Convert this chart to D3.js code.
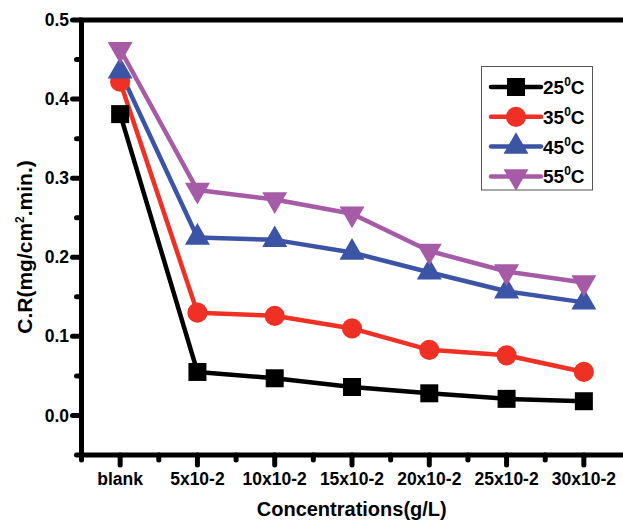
<!DOCTYPE html>
<html>
<head>
<meta charset="utf-8">
<script src="https://cdn.jsdelivr.net/npm/d3@7"></script>
<style>
  html, body { margin: 0; padding: 0; background: #fff; }
  svg { display: block; font-family: "Liberation Sans", Arial, sans-serif; font-weight: bold; }
</style>
</head>
<body>
<svg id="chart" width="623" height="523"></svg>
<script>
// ---- data ----
const categories = ["blank", "5x10-2", "10x10-2", "15x10-2", "20x10-2", "25x10-2", "30x10-2"];
const seriesNames = ["25", "35", "45", "55"];
const t25 = [0.381, 0.055, 0.047, 0.036, 0.028, 0.021, 0.018];
const t35 = [0.422, 0.130, 0.126, 0.110, 0.083, 0.076, 0.055];
const t45 = [0.435, 0.225, 0.222, 0.206, 0.181, 0.157, 0.143];
const t55 = [0.463, 0.285, 0.273, 0.255, 0.208, 0.182, 0.168];
const yMajorTicks = [0.0, 0.1, 0.2, 0.3, 0.4, 0.5];
const yMinorTicks = [-0.05, 0.05, 0.15, 0.25, 0.35, 0.45];
const xMinorTicks = [-0.5, 0.5, 1.5, 2.5, 3.5, 4.5, 5.5];

const colors = ["#000000", "#EE3124", "#3B54A5", "#A65BA7"];
const symbols = [d3.symbolSquare, d3.symbolCircle, d3.symbolTriangle, "down"];
const allSeries = [t25, t35, t45, t55];

const svg = d3.select("#chart");
const pLeft = 81.5, pRight = 622, pTop = 20, pBottom = 455;

const x = d3.scaleLinear().domain([-0.5, 6.5]).range([pLeft, pRight + 0.5]);
const y = d3.scaleLinear().domain([-0.05, 0.5]).range([pBottom, pTop]);

function symbolPath(sym) {
  if (sym === "down") return d3.symbol(d3.symbolTriangle, 270)();
  if (sym === d3.symbolTriangle) return d3.symbol(sym, 270)();
  if (sym === d3.symbolSquare) return d3.symbol(sym, 324)();
  return d3.symbol(sym, 320)();
}

const AX = 5;
// frame: left, bottom, top
svg.append("path").attr("d", `M623,${pTop}H${pLeft}V${pBottom}H623`)
  .attr("stroke", "#000").attr("stroke-width", AX).attr("fill", "none");

// ticks drawn from scales
const tickG = svg.append("g").attr("stroke", "#000").attr("stroke-width", AX).attr("stroke-linecap", "round");
tickG.selectAll(".ymaj").data(yMajorTicks).join("line")
  .attr("x1", pLeft - 9).attr("x2", pLeft).attr("y1", d => y(d)).attr("y2", d => y(d));
tickG.selectAll(".ymin").data(yMinorTicks).join("line")
  .attr("x1", pLeft - 5).attr("x2", pLeft).attr("y1", d => y(d)).attr("y2", d => y(d));
tickG.selectAll(".xmaj").data(d3.range(categories.length)).join("line")
  .attr("x1", d => x(d)).attr("x2", d => x(d)).attr("y1", pBottom).attr("y2", pBottom + 10);
tickG.selectAll(".xmin").data(xMinorTicks).join("line")
  .attr("x1", d => x(d)).attr("x2", d => x(d)).attr("y1", pBottom).attr("y2", pBottom + 5);

// tick labels
svg.append("g").selectAll("text").data(yMajorTicks).join("text")
  .attr("x", 69).attr("y", d => y(d)).attr("dy", "0.35em").attr("text-anchor", "end")
  .style("font-size", "17.5px").text(d => d3.format(".1f")(d));
svg.append("g").selectAll("text").data(categories).join("text")
  .attr("x", (d, i) => x(i)).attr("y", 485).attr("text-anchor", "middle")
  .style("font-size", "17.5px").text(d => d);

// lines + markers
const line = d3.line().x((d, i) => x(i)).y(d => y(d));
allSeries.forEach((s, k) => {
  svg.append("path").datum(s).attr("d", line).attr("fill", "none")
    .attr("stroke", colors[k]).attr("stroke-width", 4.5).attr("stroke-linejoin", "round");
});
allSeries.forEach((s, k) => {
  svg.append("g").selectAll("path").data(s).join("path")
    .attr("d", symbolPath(symbols[k]))
    .attr("transform", (d, i) => `translate(${x(i)},${y(d)})` + (symbols[k] === "down" ? " rotate(180)" : ""))
    .attr("fill", colors[k]);
});

// axis titles
svg.append("text").attr("x", (pLeft + pRight) / 2).attr("y", 516).attr("text-anchor", "middle")
  .style("font-size", "20px").text("Concentrations(g/L)");

const yt = svg.append("text").attr("transform", "translate(32,247) rotate(-90)").attr("text-anchor", "middle")
  .style("font-size", "21px");
yt.append("tspan").text("C.R(mg/cm");
yt.append("tspan").attr("dy", -8).style("font-size", "12px").text("2");
yt.append("tspan").attr("dy", 8).text(".min.)");

// legend
const lg = svg.append("g");
lg.append("rect").attr("x", 481.5).attr("y", 66.5).attr("width", 111).attr("height", 123.5)
  .attr("fill", "#fff").attr("stroke", "#555").attr("stroke-width", 1);
seriesNames.forEach((name, k) => {
  const cy = 87 + k * 29.8;
  lg.append("line").attr("x1", 491).attr("x2", 541).attr("y1", cy).attr("y2", cy)
    .attr("stroke", colors[k]).attr("stroke-width", 4.5).attr("stroke-linecap", "round");
  lg.append("path").attr("d", symbolPath(symbols[k]))
    .attr("transform", `translate(516,${cy})` + (symbols[k] === "down" ? " rotate(180)" : ""))
    .attr("fill", colors[k]);
  const t = lg.append("text").attr("x", 543).attr("y", cy + 7).style("font-size", "19px");
  t.append("tspan").text(name);
  t.append("tspan").attr("dy", -8).style("font-size", "12px").text("0");
  t.append("tspan").attr("dy", 8).text("C");
});
</script>
</body>
</html>
